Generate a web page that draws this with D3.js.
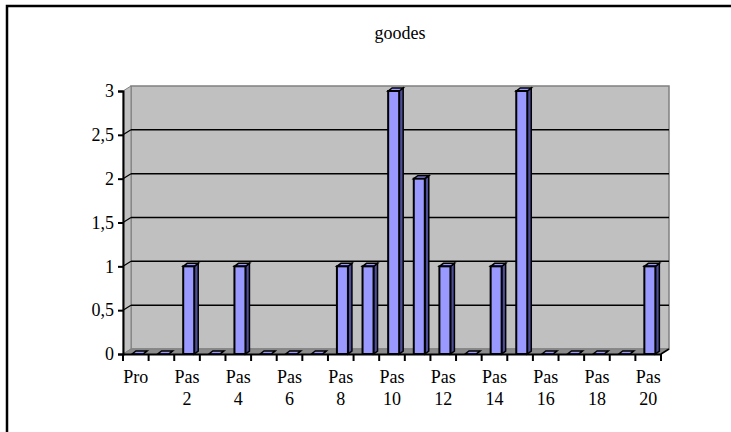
<!DOCTYPE html>
<html>
<head>
<meta charset="utf-8">
<script src="https://cdn.jsdelivr.net/npm/d3@7"></script>
<style>
  body { margin: 0; background: #fff; overflow: hidden; }
  svg { display: block; }
</style>
</head>
<body>
<script>
// chart data
const title = "goodes";
const categories = ["Pro", "Pas 1", "Pas 2", "Pas 3", "Pas 4", "Pas 5", "Pas 6", "Pas 7", "Pas 8", "Pas 9", "Pas 10",
  "Pas 11", "Pas 12", "Pas 13", "Pas 14", "Pas 15", "Pas 16", "Pas 17", "Pas 18", "Pas 19", "Pas 20"];
const values = [0, 0, 1, 0, 1, 0, 0, 0, 1, 1, 3, 2, 1, 0, 1, 3, 0, 0, 0, 0, 1];
const yTicks = [0, 0.5, 1, 1.5, 2, 2.5, 3];

const width = 731, height = 432;
const margin = {top: 91, right: 70, bottom: 78, left: 123};
const depth = {dx: 8, dy: -5};     // wall depth
const barDepth = {dx: 4, dy: -3};  // column depth
const serif = "\"Liberation Serif\"";
const fontSize = "18px";

const svg = d3.select("body").append("svg")
  .attr("width", width).attr("height", height);

// outer frame
svg.append("rect")
  .attr("x", 7).attr("y", 6)
  .attr("width", width).attr("height", height)
  .attr("fill", "none").attr("stroke", "#000").attr("stroke-width", 2.5);

svg.append("text")
  .attr("x", 400).attr("y", 39)
  .attr("text-anchor", "middle")
  .style("font-family", serif)
  .style("font-size", fontSize)
  .text(title);

const x = d3.scaleBand()
  .domain(categories)
  .range([margin.left, width - margin.right]);

const y = d3.scaleLinear()
  .domain([0, 3])
  .range([height - margin.bottom, margin.top]);

const x0 = x.range()[0], x1 = x.range()[1];
const y0 = y(0), yTop = y(3);
const pts = a => a.map(p => p.join(",")).join(" ");

// back wall
svg.append("polygon")
  .attr("points", pts([[x0 + depth.dx, yTop + depth.dy], [x1 + depth.dx, yTop + depth.dy],
    [x1 + depth.dx, y0 + depth.dy], [x0 + depth.dx, y0 + depth.dy]]))
  .attr("fill", "#c0c0c0").attr("stroke", "#808080").attr("stroke-width", 1.5);

// left side wall
svg.append("polygon")
  .attr("points", pts([[x0, yTop], [x0 + depth.dx, yTop + depth.dy],
    [x0 + depth.dx, y0 + depth.dy], [x0, y0]]))
  .attr("fill", "#c0c0c0").attr("stroke", "#808080").attr("stroke-width", 1);

// floor
svg.append("polygon")
  .attr("points", pts([[x0, y0], [x0 + depth.dx, y0 + depth.dy],
    [x1 + depth.dx, y0 + depth.dy], [x1, y0]]))
  .attr("fill", "#8c8c8c").attr("stroke", "#808080").attr("stroke-width", 1);

// gridlines
const grid = svg.append("g");
yTicks.filter(d => d > 0 && d < 3).forEach(d => {
  grid.append("line")
    .attr("x1", x0 + depth.dx).attr("x2", x1 + depth.dx)
    .attr("y1", y(d) + depth.dy).attr("y2", y(d) + depth.dy)
    .attr("stroke", "#000").attr("stroke-width", 1.5);
  grid.append("line")
    .attr("x1", x0).attr("x2", x0 + depth.dx)
    .attr("y1", y(d)).attr("y2", y(d) + depth.dy)
    .attr("stroke", "#000").attr("stroke-width", 1.2);
});

// columns
const bw = x.bandwidth();
const fx = d => x(d) + bw * 0.35;
const fw = bw * 0.43;
const bars = svg.append("g").selectAll("g")
  .data(categories.map((c, i) => ({c, v: values[i]})))
  .join("g");

bars.append("polygon") // side
  .attr("points", d => pts([[fx(d.c) + fw, y(d.v)], [fx(d.c) + fw + barDepth.dx, y(d.v) + barDepth.dy],
    [fx(d.c) + fw + barDepth.dx, y0 + barDepth.dy], [fx(d.c) + fw, y0]]))
  .attr("fill", "#4d4d99").attr("stroke", "#000").attr("stroke-width", 1.5);

bars.append("polygon") // top
  .attr("points", d => pts([[fx(d.c), y(d.v)], [fx(d.c) + barDepth.dx, y(d.v) + barDepth.dy],
    [fx(d.c) + fw + barDepth.dx, y(d.v) + barDepth.dy], [fx(d.c) + fw, y(d.v)]]))
  .attr("fill", "#9999ff").attr("stroke", "#000").attr("stroke-width", 1.5);

bars.filter(d => d.v > 0).append("rect") // front
  .attr("x", d => fx(d.c)).attr("y", d => y(d.v))
  .attr("width", fw).attr("height", d => y0 - y(d.v))
  .attr("fill", "#9999ff").attr("stroke", "#000").attr("stroke-width", 2);

// y axis
const yAxis = svg.append("g")
  .attr("transform", `translate(${x0},0)`)
  .call(d3.axisLeft(y).tickValues(yTicks).tickSize(5).tickPadding(4)
    .tickFormat(d => String(d).replace(".", ",")));
yAxis.attr("font-family", null).attr("font-size", null);
yAxis.select(".domain").attr("stroke-width", 2);
yAxis.selectAll(".tick line").attr("stroke-width", 2);
yAxis.selectAll(".tick text")
  .style("font-family", serif)
  .style("font-size", fontSize).attr("fill", "#000");

// x axis
const xAxis = svg.append("g")
  .attr("transform", `translate(0,${y0})`)
  .call(d3.axisBottom(x).tickSize(0).tickFormat(""));
xAxis.select(".domain").attr("stroke-width", 2);
xAxis.selectAll(".tick").remove();

svg.append("g").selectAll("line")
  .data(categories.concat([null]))
  .join("line")
  .attr("x1", (d, i) => x0 + i * bw).attr("x2", (d, i) => x0 + i * bw)
  .attr("y1", y0).attr("y2", y0 + 7)
  .attr("stroke", "#000").attr("stroke-width", 2);

// right corner of floor edge
svg.append("line")
  .attr("x1", x1).attr("y1", y0)
  .attr("x2", x1 + depth.dx).attr("y2", y0 + depth.dy)
  .attr("stroke", "#000").attr("stroke-width", 1.5);

const labels = svg.append("g").selectAll("text")
  .data(categories.filter((c, i) => i % 2 === 0))
  .join("text")
  .attr("text-anchor", "middle")
  .style("font-family", serif)
  .style("font-size", fontSize);
labels.each(function (d) {
  const parts = d.split(" ");
  const t = d3.select(this);
  parts.forEach((p, k) => {
    t.append("tspan")
      .attr("x", x(d) + bw / 2)
      .attr("y", y0 + 29 + k * 22)
      .text(p);
  });
});
</script>
</body>
</html>
